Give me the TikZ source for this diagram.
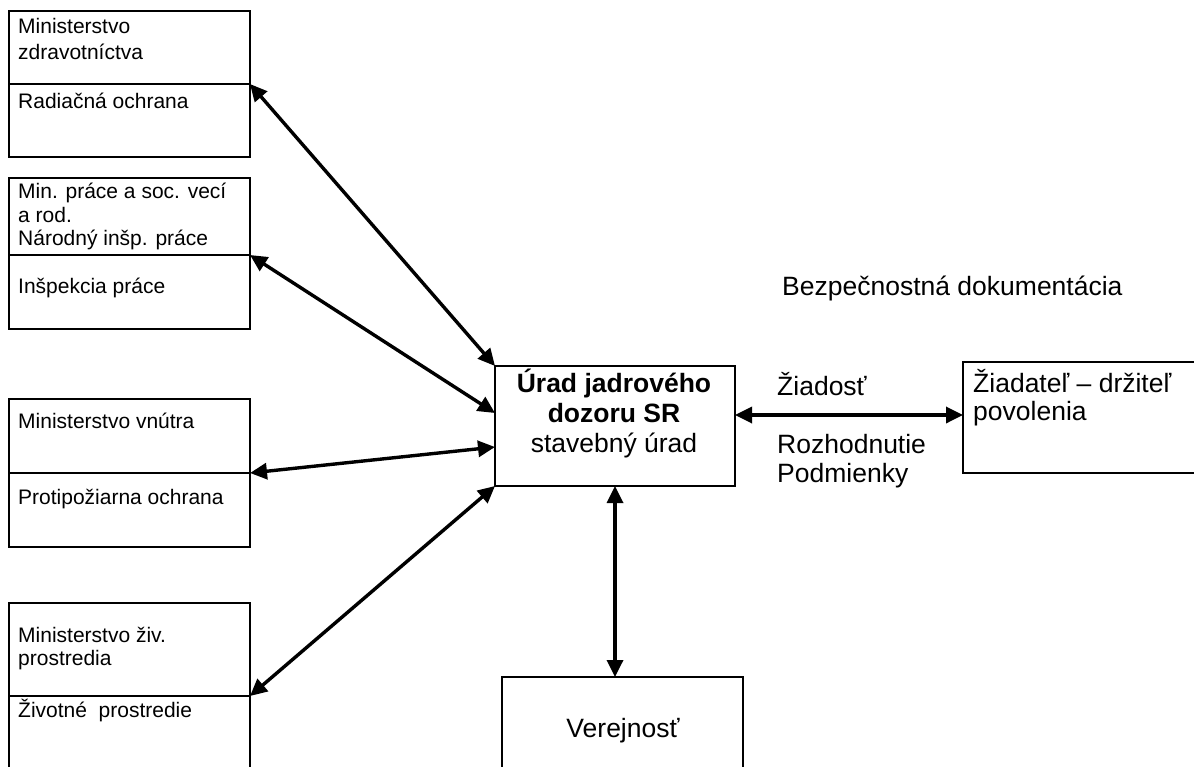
\documentclass[tikz,border=0pt]{standalone}
\usepackage{fontspec}
\setmainfont{Liberation Sans}
\usetikzlibrary{arrows.meta}
\begin{document}
\begin{tikzpicture}[x=1pt,y=-1pt,
  box/.style={draw,line width=2.7pt,rectangle,anchor=north west,inner sep=0pt,outer sep=0pt},
  divline/.style={line width=2.7pt},
  arr/.style={line width=3.4pt,{Triangle[length=17pt,width=16pt]}-{Triangle[length=17pt,width=16pt]}},
  small/.style={font=\fontsize{21}{24}\selectfont,anchor=base west,inner sep=0pt},
  big/.style={font=\fontsize{26.5}{30}\selectfont,anchor=base west,inner sep=0pt},
  bigc/.style={font=\fontsize{26.5}{30}\selectfont,anchor=base,inner sep=0pt}]
\useasboundingbox (0,0) rectangle (1194,766);
\clip (0,0) rectangle (1194,766);
% left boxes
\node[box,minimum width=241pt,minimum height=146pt] (m1) at (9,11) {};
\node[box,minimum width=241pt,minimum height=151pt] (m2) at (9,178) {};
\node[box,minimum width=241pt,minimum height=148pt] (m3) at (9,399) {};
\node[box,minimum width=241pt,minimum height=200pt] (m4) at (9,603) {};
\coordinate (d1l) at (9,84);   \coordinate (d1r) at (250,84);
\coordinate (d2l) at (9,255);  \coordinate (d2r) at (250,255);
\coordinate (d3l) at (9,473);  \coordinate (d3r) at (250,473);
\coordinate (d4l) at (9,696);  \coordinate (d4r) at (250,696);
\draw[divline] (d1l) -- (d1r);
\draw[divline] (d2l) -- (d2r);
\draw[divline] (d3l) -- (d3r);
\draw[divline] (d4l) -- (d4r);
% texts left
\node[small] (t1a) at (18,33) {Ministerstvo};
\node[small] (t1b) at (18,59) {zdravotníctva};
\node[small] (t1c) at (18,108) {Radiačná ochrana};
\node[small] (t2a) at (18,198) {Min. práce a soc. vecí};
\node[small] (t2b) at (18,222) {a rod.};
\node[small] (t2c) at (18,245) {Národný inšp. práce};
\node[small] (t2d) at (18,293) {Inšpekcia práce};
\node[small] (t3a) at (18,428) {Ministerstvo vnútra};
\node[small] (t3b) at (18,504) {Protipožiarna ochrana};
\node[small] (t4a) at (18,642) {Ministerstvo živ.};
\node[small] (t4b) at (18,665) {prostredia};
\node[small] (t4c) at (18,717) {Životné\ \ prostredie};
% central
\node[box,minimum width=240pt,minimum height=120pt] (urad) at (495,366) {};
\node[bigc,font=\fontsize{26.5}{30}\selectfont\bfseries] (u1) at (614,392) {Úrad jadrového};
\node[bigc,font=\fontsize{26.5}{30}\selectfont\bfseries] (u2) at (614,422) {dozoru SR};
\node[bigc] (u3) at (614,452) {stavebný úrad};
% right
\node[box,minimum width=260pt,minimum height=111pt] (ziad) at (963,362) {};
\node[big] (z1) at (973,392) {Žiadateľ – držiteľ};
\node[big] (z2) at (973,420) {povolenia};
\node[big] (bez) at (782,295) {Bezpečnostná dokumentácia};
\node[big] (zia) at (777,395) {Žiadosť};
\node[big] (roz) at (777,453) {Rozhodnutie};
\node[big] (pod) at (777,482) {Podmienky};
% bottom
\node[box,minimum width=241pt,minimum height=150pt] (verej) at (502,677) {};
\node[bigc] (vt) at (623,737) {Verejnosť};
% connectors
\coordinate (c2) at (495,413);
\coordinate (c3) at (495,447);
\coordinate (h1) at (735,415);
\coordinate (h2) at (963,415);
\draw[arr] (d1r) -- (urad.north west);
\draw[arr] (d2r) -- (c2);
\draw[arr] (d3r) -- (c3);
\draw[arr] (d4r) -- (urad.south west);
\draw[arr] (h1) -- (h2);
\draw[arr] (urad.south) -- (urad.south |- verej.north);
\end{tikzpicture}
\end{document}
